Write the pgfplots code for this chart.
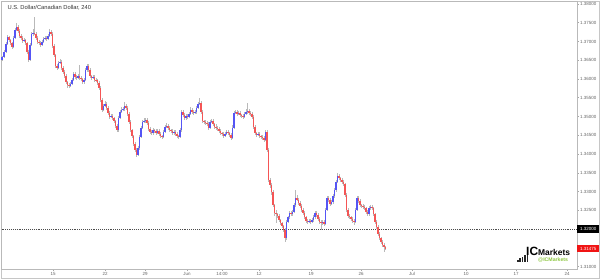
\documentclass[border=0pt]{standalone}
\usepackage{fontspec}
\setmainfont{Liberation Sans}
\usepackage{pgfplots}
\pgfplotsset{compat=1.18}
\usepackage{pgfplotstable}
\definecolor{cblue}{RGB}{85,85,245}
\definecolor{cred}{RGB}{245,85,85}
\definecolor{cwick}{RGB}{185,185,185}
\definecolor{lbl}{RGB}{100,100,100}
\definecolor{icgreen}{RGB}{140,198,63}

\pgfplotstableread{
x o h l c
2 1.3651 1.3662 1.3647 1.3659
4 1.3659 1.3676 1.3655 1.3672
6 1.3672 1.3699 1.3668 1.3694
7.5 1.3694 1.3718 1.3690 1.3712
9 1.3712 1.3716 1.3700 1.3704
10.5 1.3704 1.3708 1.3690 1.3696
12 1.3696 1.3700 1.3680 1.3686
13.5 1.3686 1.3714 1.3682 1.3710
15 1.3710 1.3736 1.3706 1.3731
16.5 1.3731 1.3750 1.3727 1.3739
18 1.3739 1.3743 1.3722 1.3728
19.5 1.3728 1.3733 1.3710 1.3715
21 1.3715 1.3720 1.3704 1.3710
22.5 1.3710 1.3714 1.3697 1.3702
24 1.3702 1.3709 1.3698 1.3704
25.5 1.3704 1.3708 1.3690 1.3696
27 1.3696 1.3700 1.3666 1.3672
28.5 1.3672 1.3676 1.3644 1.3651
30 1.3651 1.3696 1.3647 1.3691
31.5 1.3691 1.3726 1.3687 1.3720
33 1.3720 1.3733 1.3715 1.3723
34.5 1.3723 1.3766 1.3716 1.3720
36 1.3720 1.3725 1.3705 1.3710
37.5 1.3710 1.3714 1.3694 1.3699
39 1.3699 1.3704 1.3691 1.3696
40.5 1.3696 1.3700 1.3686 1.3691
42 1.3691 1.3704 1.3687 1.3699
43.5 1.3699 1.3712 1.3695 1.3707
45 1.3707 1.3716 1.3703 1.3710
46.5 1.3710 1.3714 1.3702 1.3707
48 1.3707 1.3720 1.3703 1.3715
49.5 1.3715 1.3732 1.3711 1.3726
51 1.3726 1.3730 1.3715 1.3720
52.5 1.3720 1.3724 1.3683 1.3688
54 1.3688 1.3692 1.3658 1.3664
55.5 1.3664 1.3668 1.3629 1.3635
57 1.3635 1.3640 1.3624 1.3630
58.5 1.3630 1.3648 1.3626 1.3643
60 1.3643 1.3652 1.3640 1.3646
61.5 1.3646 1.3650 1.3625 1.3630
63 1.3630 1.3634 1.3614 1.3619
64.5 1.3619 1.3623 1.3602 1.3608
66 1.3608 1.3612 1.3586 1.3592
67.5 1.3592 1.3596 1.3577 1.3584
69 1.3584 1.3590 1.3576 1.3582
70.5 1.3582 1.3593 1.3578 1.3587
72 1.3587 1.3603 1.3583 1.3598
73.5 1.3598 1.3620 1.3594 1.3614
75 1.3614 1.3618 1.3600 1.3606
76.5 1.3606 1.3612 1.3598 1.3603
78 1.3603 1.3614 1.3599 1.3608
79.5 1.3608 1.3638 1.3598 1.3603
81 1.3603 1.3607 1.3595 1.3600
82.5 1.3600 1.3604 1.3587 1.3592
84 1.3592 1.3603 1.3588 1.3598
85.5 1.3598 1.3630 1.3594 1.3624
87 1.3624 1.3640 1.3620 1.3635
88.5 1.3635 1.3639 1.3618 1.3624
90 1.3624 1.3628 1.3602 1.3608
91.5 1.3608 1.3612 1.3598 1.3603
93 1.3603 1.3611 1.3599 1.3606
94.5 1.3606 1.3610 1.3593 1.3598
96 1.3598 1.3603 1.3592 1.3597
97.5 1.3597 1.3601 1.3585 1.3590
99 1.3590 1.3594 1.3570 1.3576
100.5 1.3576 1.3580 1.3538 1.3544
102 1.3544 1.3548 1.3512 1.3518
103.5 1.3518 1.3534 1.3514 1.3528
105 1.3528 1.3540 1.3524 1.3534
106.5 1.3534 1.3538 1.3518 1.3523
108 1.3523 1.3527 1.3504 1.3510
109.5 1.3510 1.3514 1.3494 1.3499
111 1.3499 1.3508 1.3495 1.3502
112.5 1.3502 1.3506 1.3490 1.3496
114 1.3496 1.3500 1.3483 1.3488
115.5 1.3488 1.3492 1.3469 1.3475
117 1.3475 1.3479 1.3458 1.3464
118.5 1.3464 1.3502 1.3460 1.3496
120 1.3496 1.3518 1.3492 1.3512
121.5 1.3512 1.3524 1.3508 1.3518
123 1.3518 1.3526 1.3514 1.3520
124.5 1.3520 1.3539 1.3516 1.3528
126 1.3528 1.3532 1.3518 1.3523
127.5 1.3523 1.3527 1.3502 1.3507
129 1.3507 1.3511 1.3480 1.3486
130.5 1.3486 1.3490 1.3458 1.3464
132 1.3464 1.3468 1.3442 1.3448
133.5 1.3448 1.3452 1.3421 1.3427
135 1.3427 1.3431 1.3405 1.3411
136.5 1.3411 1.3415 1.3392 1.3398
138 1.3398 1.3421 1.3394 1.3416
139.5 1.3416 1.3452 1.3412 1.3446
141 1.3446 1.3476 1.3442 1.3470
142.5 1.3470 1.3492 1.3466 1.3486
144 1.3486 1.3496 1.3482 1.3488
145.5 1.3488 1.3497 1.3484 1.3491
147 1.3491 1.3495 1.3477 1.3483
148.5 1.3483 1.3487 1.3461 1.3467
150 1.3467 1.3471 1.3453 1.3459
151.5 1.3459 1.3463 1.3450 1.3456
153 1.3456 1.3470 1.3452 1.3464
154.5 1.3464 1.3468 1.3456 1.3462
156 1.3462 1.3466 1.3450 1.3456
157.5 1.3456 1.3468 1.3452 1.3462
159 1.3462 1.3466 1.3448 1.3454
160.5 1.3454 1.3458 1.3442 1.3448
162 1.3448 1.3452 1.3440 1.3446
163.5 1.3446 1.3465 1.3442 1.3459
165 1.3459 1.3478 1.3455 1.3472
166.5 1.3472 1.3484 1.3468 1.3475
168 1.3475 1.3479 1.3464 1.3470
169.5 1.3470 1.3474 1.3458 1.3464
171 1.3464 1.3468 1.3456 1.3462
172.5 1.3462 1.3466 1.3450 1.3456
174 1.3456 1.3465 1.3452 1.3459
175.5 1.3459 1.3463 1.3448 1.3454
177 1.3454 1.3458 1.3442 1.3448
178.5 1.3448 1.3452 1.3440 1.3446
180 1.3446 1.3470 1.3442 1.3464
181.5 1.3464 1.3518 1.3460 1.3512
183 1.3512 1.3516 1.3498 1.3504
184.5 1.3504 1.3508 1.3490 1.3496
186 1.3496 1.3508 1.3492 1.3502
187.5 1.3502 1.3506 1.3493 1.3499
189 1.3499 1.3513 1.3495 1.3507
190.5 1.3507 1.3524 1.3503 1.3518
192 1.3518 1.3522 1.3506 1.3512
193.5 1.3512 1.3516 1.3504 1.3510
195 1.3510 1.3518 1.3506 1.3512
196.5 1.3512 1.3529 1.3508 1.3523
198 1.3523 1.3540 1.3519 1.3534
199.5 1.3534 1.3550 1.3530 1.3536
201 1.3536 1.3540 1.3506 1.3512
202.5 1.3512 1.3516 1.3482 1.3488
204 1.3488 1.3492 1.3480 1.3486
205.5 1.3486 1.3490 1.3477 1.3483
207 1.3483 1.3487 1.3474 1.3480
208.5 1.3480 1.3484 1.3464 1.3470
210 1.3470 1.3492 1.3466 1.3486
211.5 1.3486 1.3494 1.3482 1.3488
213 1.3488 1.3492 1.3474 1.3480
214.5 1.3480 1.3484 1.3466 1.3472
216 1.3472 1.3480 1.3464 1.3470
217.5 1.3470 1.3474 1.3461 1.3467
219 1.3467 1.3471 1.3456 1.3462
220.5 1.3462 1.3466 1.3450 1.3456
222 1.3456 1.3460 1.3448 1.3454
223.5 1.3454 1.3458 1.3442 1.3448
225 1.3448 1.3460 1.3444 1.3454
226.5 1.3454 1.3465 1.3450 1.3459
228 1.3459 1.3463 1.3450 1.3456
229.5 1.3456 1.3460 1.3445 1.3451
231 1.3451 1.3455 1.3437 1.3443
232.5 1.3443 1.3476 1.3439 1.3470
234 1.3470 1.3516 1.3466 1.3510
235.5 1.3510 1.3518 1.3506 1.3512
237 1.3512 1.3516 1.3501 1.3507
238.5 1.3507 1.3516 1.3503 1.3510
240 1.3510 1.3514 1.3498 1.3504
241.5 1.3504 1.3508 1.3496 1.3502
243 1.3502 1.3506 1.3493 1.3499
244.5 1.3499 1.3513 1.3495 1.3507
246 1.3507 1.3520 1.3503 1.3512
247.5 1.3512 1.3536 1.3508 1.3515
249 1.3515 1.3519 1.3504 1.3510
250.5 1.3510 1.3514 1.3501 1.3507
252 1.3507 1.3511 1.3493 1.3499
253.5 1.3499 1.3503 1.3466 1.3472
255 1.3472 1.3476 1.3450 1.3456
256.5 1.3456 1.3460 1.3445 1.3451
258 1.3451 1.3460 1.3447 1.3454
259.5 1.3454 1.3458 1.3442 1.3448
261 1.3448 1.3452 1.3440 1.3446
262.5 1.3446 1.3450 1.3437 1.3443
264 1.3443 1.3447 1.3432 1.3438
265.5 1.3438 1.3465 1.3434 1.3459
267 1.3459 1.3463 1.3405 1.3411
268.5 1.3411 1.3415 1.3325 1.3331
270 1.3331 1.3336 1.3310 1.3318
271.5 1.3318 1.3322 1.3292 1.3299
273 1.3299 1.3303 1.3258 1.3264
274.5 1.3264 1.3268 1.3236 1.3243
276 1.3243 1.3250 1.3216 1.3240
277.5 1.3240 1.3244 1.3229 1.3235
279 1.3235 1.3239 1.3218 1.3224
280.5 1.3224 1.3228 1.3210 1.3216
282 1.3216 1.3220 1.3202 1.3208
283.5 1.3208 1.3212 1.3192 1.3198
285 1.3198 1.3202 1.3166 1.3176
286.5 1.3176 1.3224 1.3170 1.3219
288 1.3219 1.3236 1.3215 1.3232
289.5 1.3232 1.3247 1.3228 1.3243
291 1.3243 1.3247 1.3234 1.3240
292.5 1.3240 1.3250 1.3236 1.3246
294 1.3246 1.3270 1.3242 1.3264
295.5 1.3264 1.3304 1.3260 1.3283
297 1.3283 1.3290 1.3274 1.3278
298.5 1.3278 1.3282 1.3264 1.3270
300 1.3270 1.3274 1.3256 1.3262
301.5 1.3262 1.3266 1.3245 1.3251
303 1.3251 1.3255 1.3237 1.3243
304.5 1.3243 1.3247 1.3226 1.3232
306 1.3232 1.3236 1.3216 1.3222
307.5 1.3222 1.3226 1.3213 1.3219
309 1.3219 1.3228 1.3215 1.3222
310.5 1.3222 1.3226 1.3213 1.3219
312 1.3219 1.3230 1.3215 1.3224
313.5 1.3224 1.3238 1.3220 1.3232
315 1.3232 1.3249 1.3228 1.3243
316.5 1.3243 1.3247 1.3232 1.3238
318 1.3238 1.3242 1.3221 1.3227
319.5 1.3227 1.3231 1.3213 1.3219
321 1.3219 1.3223 1.3198 1.3216
322.5 1.3216 1.3224 1.3212 1.3219
324 1.3219 1.3223 1.3208 1.3214
325.5 1.3214 1.3257 1.3210 1.3251
327 1.3251 1.3289 1.3247 1.3283
328.5 1.3283 1.3287 1.3272 1.3278
330 1.3278 1.3282 1.3261 1.3267
331.5 1.3267 1.3277 1.3263 1.3272
333 1.3272 1.3293 1.3268 1.3288
334.5 1.3288 1.3310 1.3284 1.3304
336 1.3304 1.3332 1.3300 1.3326
337.5 1.3326 1.3350 1.3322 1.3342
339 1.3342 1.3346 1.3330 1.3336
340.5 1.3336 1.3340 1.3325 1.3331
342 1.3331 1.3335 1.3320 1.3326
343.5 1.3326 1.3330 1.3314 1.3320
345 1.3320 1.3324 1.3285 1.3291
346.5 1.3291 1.3295 1.3245 1.3251
348 1.3251 1.3255 1.3229 1.3235
349.5 1.3235 1.3239 1.3226 1.3232
351 1.3232 1.3236 1.3221 1.3227
352.5 1.3227 1.3231 1.3215 1.3222
354 1.3222 1.3226 1.3212 1.3219
355.5 1.3219 1.3257 1.3215 1.3251
357 1.3251 1.3289 1.3247 1.3283
358.5 1.3283 1.3287 1.3269 1.3275
360 1.3275 1.3279 1.3258 1.3264
361.5 1.3264 1.3268 1.3256 1.3262
363 1.3262 1.3266 1.3253 1.3259
364.5 1.3259 1.3263 1.3250 1.3256
366 1.3256 1.3260 1.3240 1.3246
367.5 1.3246 1.3250 1.3234 1.3240
369 1.3240 1.3262 1.3236 1.3256
370.5 1.3256 1.3264 1.3252 1.3259
372 1.3259 1.3263 1.3250 1.3256
373.5 1.3256 1.3260 1.3234 1.3240
375 1.3240 1.3244 1.3213 1.3219
376.5 1.3219 1.3223 1.3200 1.3206
378 1.3206 1.3210 1.3181 1.3187
379.5 1.3187 1.3191 1.3170 1.3176
381 1.3176 1.3180 1.3160 1.3166
382.5 1.3166 1.3170 1.3152 1.3158
384 1.3158 1.3162 1.3139 1.3152
385.5 1.3152 1.3156 1.3144 1.31475
}\candles

\begin{document}
\begin{tikzpicture}[x=1bp,y=1bp]
\useasboundingbox (0,0) rectangle (600,279);
\draw[gray!45, line width=0.8bp] (1.5,1) rectangle (599,277.5);
\begin{axis}[
  at={(1.5bp,10bp)}, anchor=south west,
  scale only axis, width=575.5bp, height=267.5bp,
  xmin=1.5, xmax=577, ymin=1.309333, ymax=1.380667,
  axis line style={draw=gray!55, line width=0.8bp},
  clip=false,
  xtick={53,105,145,187,222,259,311,361,412,466,516,567},
  xticklabels={15,22,29,Jun,14:00,12,19,26,Jul,10,17,24},
  ytick={1.31,1.315,1.32,1.325,1.33,1.335,1.34,1.345,1.35,1.355,1.36,1.365,1.37,1.375,1.38},
  scaled y ticks=false,
  xtick pos=bottom, ytick pos=right, yticklabel pos=right,
  tick align=outside, major tick length=2bp,
  tick style={draw=gray!70, line width=0.5bp},
  ticklabel style={font=\fontsize{4.5}{5}\selectfont, text=lbl},
  xticklabel style={inner sep=1bp},
  yticklabel style={inner sep=1bp, /pgf/number format/fixed, /pgf/number format/fixed zerofill, /pgf/number format/precision=5},
  /pgf/number format/assume math mode=true,
]
\addplot[densely dotted, draw=gray!60!black, line width=0.9bp] coordinates {(1.5,1.32) (577,1.32)};
% wicks
\addplot[draw=none, error bars/.cd, y dir=both, y explicit, error mark=none,
  error bar style={draw=cwick, line width=0.7bp}]
  table[x=x, y expr={(\thisrow{h}+\thisrow{l})/2}, y error expr={(\thisrow{h}-\thisrow{l})/2}] {\candles};
% up bodies
\addplot[draw=none, restrict expr to domain={\thisrow{c}-\thisrow{o}}{0:1},
  error bars/.cd, y dir=both, y explicit, error mark=none,
  error bar style={draw=cblue, line width=1.25bp}]
  table[x=x, y expr={(\thisrow{o}+\thisrow{c})/2}, y error expr={max(abs(\thisrow{c}-\thisrow{o})/2,0.00003)}] {\candles};
% down bodies
\addplot[draw=none, restrict expr to domain={\thisrow{c}-\thisrow{o}}{-1:-0.0000001},
  error bars/.cd, y dir=both, y explicit, error mark=none,
  error bar style={draw=cred, line width=1.25bp}]
  table[x=x, y expr={(\thisrow{o}+\thisrow{c})/2}, y error expr={max(abs(\thisrow{c}-\thisrow{o})/2,0.00003)}] {\candles};
\coordinate (b1) at (axis cs:577,1.32);
\coordinate (b2) at (axis cs:577,1.31475);
\end{axis}
\node[anchor=west, fill=black, text=white, inner sep=0.6bp, minimum height=7.5bp, minimum width=22bp, font=\fontsize{4.5}{5}\selectfont] at (b1) {1.32000};
\node[anchor=west, fill={rgb,255:red,240;green,20;blue,20}, text=white, inner sep=0.6bp, minimum height=7.5bp, minimum width=22bp, font=\fontsize{4.5}{5}\selectfont] at (b2) {1.31475};
\node[anchor=west, font=\fontsize{5.8}{7}\selectfont, text=black!80] at (4,271) {U.S. Dollar/Canadian Dollar, 240};
% logo
\foreach \i/\hh in {0/2,1/3.5,2/5,3/6.5,4/8.5} \fill[black!85] (517+\i*2.4,17.5) rectangle ++(1.5,\hh);
\node[anchor=base west, inner sep=0] at (526,24) {\fontsize{12}{12}\selectfont\bfseries IC\fontsize{8.5}{8.5}\selectfont Markets};
\node[anchor=base west, inner sep=0, text=icgreen] at (538,18) {\fontsize{5.2}{6}\selectfont\bfseries @ICMarkets};
\end{tikzpicture}
\end{document}
